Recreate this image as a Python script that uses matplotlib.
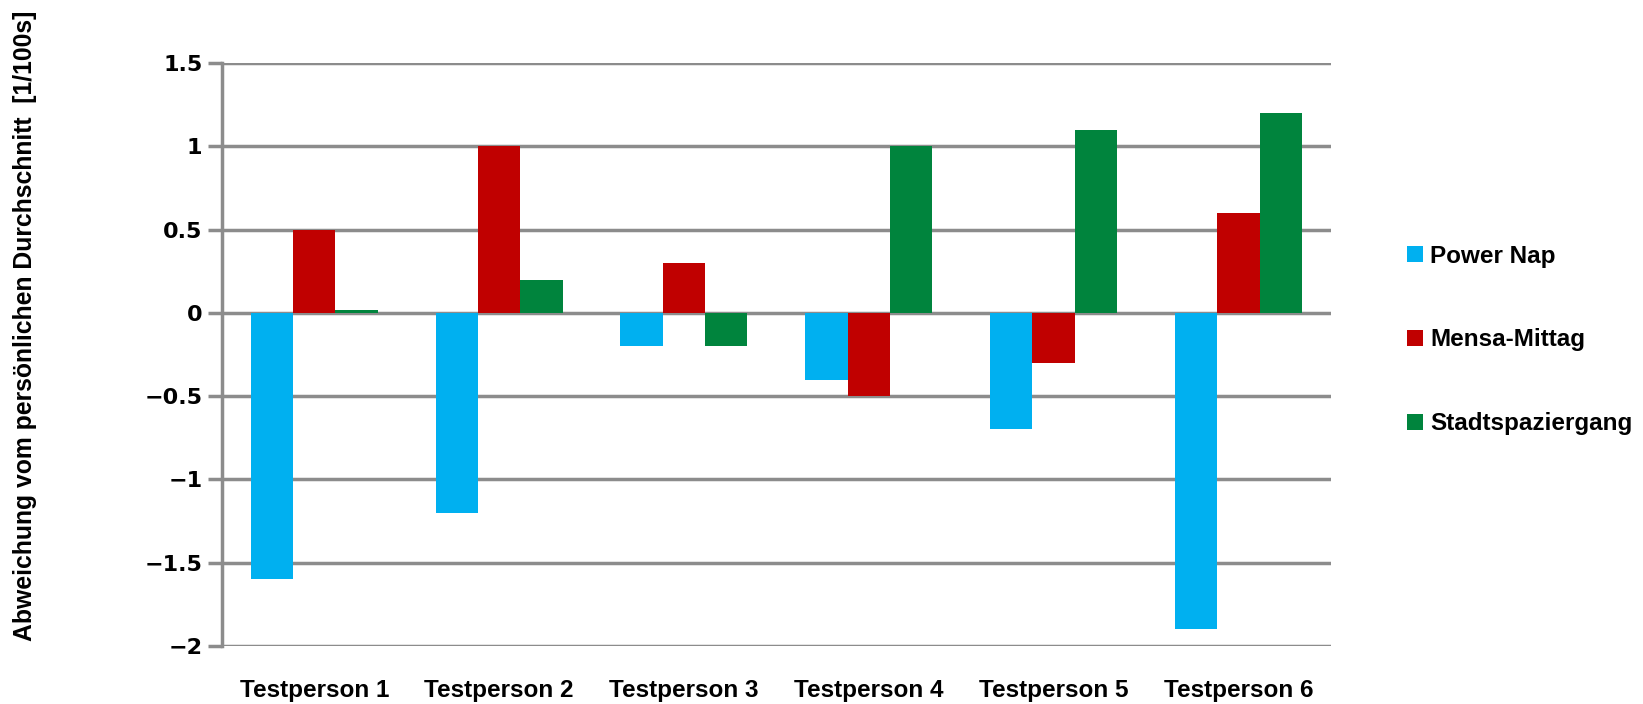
import matplotlib.pyplot as plt
import numpy as np

personen = ['Testperson 1', 'Testperson 2', 'Testperson 3',
            'Testperson 4', 'Testperson 5', 'Testperson 6']
power_nap = [-1.6, -1.2, -0.2, -0.4, -0.7, -1.9]
mensa = [0.5, 1.0, 0.3, -0.5, -0.3, 0.6]
spaziergang = [0.02, 0.2, -0.2, 1.0, 1.1, 1.2]
serien = ['Power Nap', 'Mensa-Mittag', 'Stadtspaziergang']
farben = ['#00B0F0', '#C00000', '#00843D']

plt.rcParams['font.family'] = ['Liberation Sans', 'DejaVu Sans']
plt.rcParams['font.weight'] = 'bold'

fig = plt.figure(figsize=(16.43, 7.04), dpi=100)
ax = fig.add_axes([0.135, 0.0824, 0.675, 0.828])

x = np.arange(len(personen))
w = 0.229
for i, (werte, name, c) in enumerate(zip([power_nap, mensa, spaziergang], serien, farben)):
    ax.bar(x + (i - 1) * w, werte, w, color=c, label=name, zorder=3)

ax.set_xlim(-0.5, 5.5)
ax.set_ylim(-2, 1.5)
ax.set_yticks(np.arange(-2, 1.51, 0.5))
ax.set_yticklabels(['\u22122', '\u22121.5', '\u22121', '\u22120.5', '0', '0.5', '1', '1.5'],
                   fontfamily='DejaVu Sans', fontsize=16, fontweight='bold')
ax.yaxis.grid(True, color='#8c8c8c', linewidth=2.5, zorder=0)
ax.set_axisbelow(True)
ax.set_xticks(x)
ax.set_xticklabels(personen, fontsize=17.5, fontweight='bold')
ax.tick_params(axis='x', length=0, pad=24)
ax.tick_params(axis='y', length=10, width=2.5, color='#8c8c8c', pad=4)
for s in ['top', 'right', 'bottom']:
    ax.spines[s].set_visible(False)
ax.spines['left'].set_color('#8c8c8c')
ax.spines['left'].set_linewidth(2.5)

ax.set_ylabel('Abweichung vom persönlichen Durchschnitt  [1/100s]', fontsize=17.8,
              fontweight='bold')
ax.yaxis.set_label_coords(-0.167, 0.55)

ax.legend(loc='center left', bbox_to_anchor=(1.0685, 0.525), frameon=False,
          handlelength=0.65, handleheight=0.65, handletextpad=0.3, labelspacing=2.5,
          borderaxespad=0, borderpad=0, prop={'weight': 'bold', 'size': 17.5})

fig.savefig('out.png', dpi=100)
